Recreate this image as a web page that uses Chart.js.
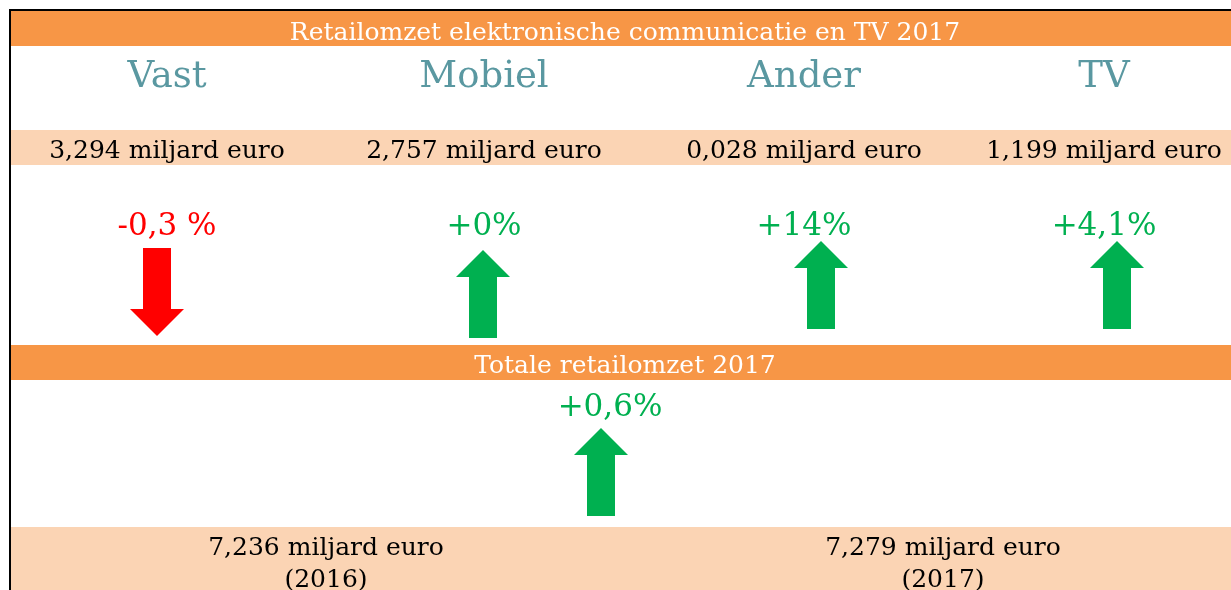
<!DOCTYPE html>
<html lang="nl">
<head>
<meta charset="UTF-8">
<title>Retailomzet elektronische communicatie en TV 2017</title>
<script src="https://cdn.jsdelivr.net/npm/chart.js"></script>
<style>
  html, body { margin: 0; padding: 0; background: #fff; }
  #wrap { width: 1231px; height: 590px; }
</style>
</head>
<body>
<div id="wrap"><canvas id="myChart" width="1231" height="590"></canvas></div>
<script>
// --- data ---
const title = 'Retailomzet elektronische communicatie en TV 2017';
const categories = ['Vast', 'Mobiel', 'Ander', 'TV'];
const revenue2017 = [3.294, 2.757, 0.028, 1.199];     // miljard euro
const change = [-0.3, 0, 14, 4.1];                    // %
const changeLabels = ['-0,3 %', '+0%', '+14%', '+4,1%'];
const totalTitle = 'Totale retailomzet 2017';
const totalYears = ['2016', '2017'];
const totalRevenue = [7.236, 7.279];                  // miljard euro
const totalChange = 0.6;
const totalChangeLabel = '+0,6%';

// --- layout (pixels) ---
const colX = [167, 484, 804, 1104];
const arrowX = [157, 483, 821, 1117];
const arrowY = [292, 294, 285, 285];
const totalArrow = { x: 601, y: 472 };
const totalChangeX = 610;
const totalX = [326, 943];

const orange = '#F79646', peach = '#FBD4B4', teal = '#5A98A1';
const green = '#00B050', red = '#FF0000';
const serif = '"DejaVu Serif", serif';

function fmt(v) { return v.toFixed(3).replace('.', ',') + ' miljard euro'; }

// arrow images used as point styles
function makeArrow(up, color) {
  const c = document.createElement('canvas');
  c.width = 54; c.height = 88;
  const g = c.getContext('2d');
  g.fillStyle = color;
  g.beginPath();
  if (up) {
    g.moveTo(27, 0); g.lineTo(54, 27); g.lineTo(41, 27); g.lineTo(41, 88);
    g.lineTo(13, 88); g.lineTo(13, 27); g.lineTo(0, 27);
  } else {
    g.moveTo(13, 0); g.lineTo(41, 0); g.lineTo(41, 61); g.lineTo(54, 61);
    g.lineTo(27, 88); g.lineTo(0, 61); g.lineTo(13, 61);
  }
  g.closePath();
  g.fill();
  return c;
}
const upArrow = makeArrow(true, green);
const downArrow = makeArrow(false, red);

const allChanges = change.concat([totalChange]);
const arrowPoints = arrowX.map((x, i) => ({ x: x, y: arrowY[i] })).concat([totalArrow]);

const infographic = {
  id: 'infographic',
  beforeDatasetsDraw(chart) {
    const { ctx, scales: { x, y } } = chart;
    const px = v => x.getPixelForValue(v), py = v => y.getPixelForValue(v);
    ctx.save();
    // frame
    ctx.fillStyle = '#000';
    ctx.fillRect(px(9), py(9), px(1231) - px(9), 2);
    ctx.fillRect(px(9), py(9), 2, py(590) - py(9));
    // bands
    const band = (y0, y1, c) => {
      ctx.fillStyle = c;
      ctx.fillRect(px(11), py(y0), px(1231) - px(11), py(y1) - py(y0));
    };
    band(11, 46, orange);
    band(130, 165, peach);
    band(345, 380, orange);
    band(527, 590, peach);

    ctx.textAlign = 'center';
    ctx.textBaseline = 'alphabetic';
    const text = (s, xv, yv, size, color) => {
      ctx.font = size + 'px ' + serif;
      ctx.fillStyle = color;
      ctx.fillText(s, px(xv), py(yv));
    };
    text(title, 625, 40, 25, '#fff');
    categories.forEach((c, i) => {
      text(c, colX[i], 87, 37, teal);
      text(fmt(revenue2017[i]), colX[i], 158, 25, '#000');
      text(changeLabels[i], colX[i], 235, 31, change[i] < 0 ? red : green);
    });
    text(totalTitle, 625, 373, 25, '#fff');
    text(totalChangeLabel, totalChangeX, 416, 31, totalChange < 0 ? red : green);
    totalRevenue.forEach((v, i) => {
      text(fmt(v), totalX[i], 555, 25, '#000');
      text('(' + totalYears[i] + ')', totalX[i], 587, 25, '#000');
    });
    ctx.restore();
  }
};

new Chart(document.getElementById('myChart'), {
  type: 'scatter',
  data: {
    datasets: [{
      data: arrowPoints,
      pointStyle: allChanges.map(v => v < 0 ? downArrow : upArrow),
      pointRadius: 44
    }]
  },
  options: {
    responsive: false,
    animation: false,
    events: [],
    layout: { padding: 0, autoPadding: false },
    plugins: { legend: { display: false }, tooltip: { enabled: false } },
    scales: {
      x: { type: 'linear', min: 0, max: 1231, display: false },
      y: { type: 'linear', min: 0, max: 590, reverse: true, display: false }
    }
  },
  plugins: [infographic]
});
</script>
</body>
</html>
